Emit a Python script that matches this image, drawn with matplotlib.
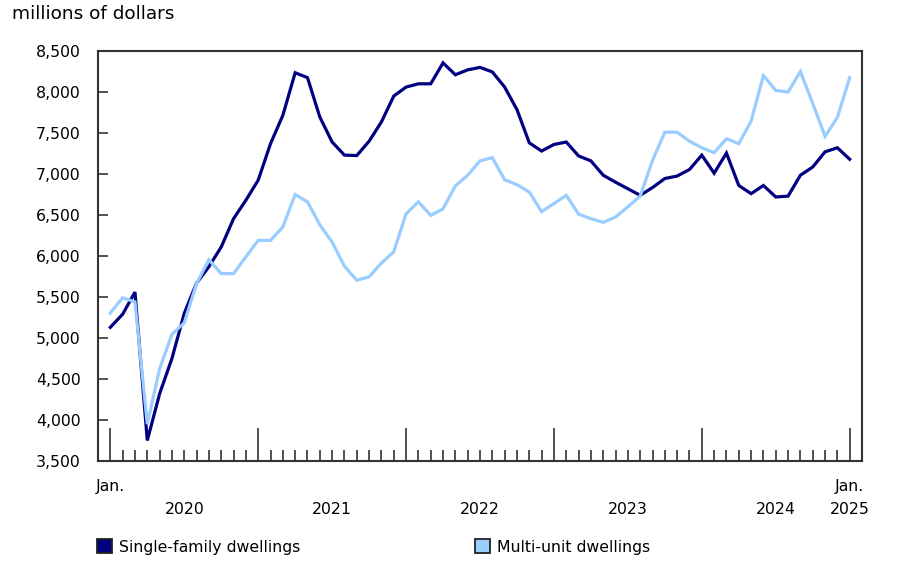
import matplotlib
matplotlib.use("Agg")
import matplotlib.pyplot as plt
from matplotlib.patches import Patch
from matplotlib.ticker import FuncFormatter, MultipleLocator
import matplotlib.transforms as mtransforms

# Monthly data, Jan 2020 .. Jan 2025 (millions of dollars)
single_family = [
    5130, 5290, 5560, 3750, 4320, 4750, 5300, 5670, 5870, 6110, 6455, 6680,
    6925, 7370, 7715, 8235, 8175, 7695, 7390, 7230, 7225, 7400, 7635, 7950,
    8060, 8100, 8100, 8355, 8210, 8270, 8300, 8245, 8060, 7785, 7380, 7280,
    7360, 7390, 7220, 7160, 6985, 6900, 6820, 6740, 6835, 6945, 6975, 7055,
    7230, 7010, 7255, 6860, 6760, 6860, 6720, 6730, 6985, 7085, 7270, 7320,
    7180,
]
multi_unit = [
    5305, 5490, 5440, 3950, 4625, 5045, 5185, 5665, 5955, 5785, 5785, 5990,
    6190, 6190, 6355, 6750, 6660, 6380, 6170, 5875, 5705, 5745, 5915, 6050,
    6515, 6660, 6495, 6575, 6855, 6985, 7160, 7200, 6930, 6870, 6780, 6540,
    6640, 6740, 6510, 6455, 6410, 6475, 6600, 6730, 7165, 7510, 7510, 7400,
    7320, 7260, 7430, 7370, 7645, 8200, 8020, 8000, 8250, 7860, 7460, 7690,
    8175,
]
series_names = ["Single-family dwellings", "Multi-unit dwellings"]
year_labels = ["2020", "2021", "2022", "2023", "2024"]
months = list(range(len(single_family)))

DARK = "#000080"
LIGHT = "#99CCFF"
AXC = "#333333"

plt.rcParams["font.family"] = ["DejaVu Sans"]
fig = plt.figure(figsize=(9.02, 5.73), dpi=100)
ax = fig.add_axes([98 / 902, 1 - 461 / 573, (862 - 98) / 902, (461 - 51) / 573])

ax.plot(months, single_family, color=DARK, lw=2.3, solid_joinstyle="miter")
ax.plot(months, multi_unit, color=LIGHT, lw=2.3, solid_joinstyle="miter")

ax.set_xlim(-1, 61)
ax.set_ylim(3500, 8500)
ax.yaxis.set_major_locator(MultipleLocator(500))
ax.yaxis.set_major_formatter(FuncFormatter(lambda v, p: f"{int(v):,}"))
ax.tick_params(axis="y", direction="in", length=7, width=1.2, color=AXC,
               labelsize=11.3, pad=12.5)

ax.set_xticks(list(range(0, 61, 12)))
ax.set_xticks(months, minor=True)
ax.set_xticklabels([])
ax.tick_params(axis="x", which="major", direction="in", length=24, width=1.2, color=AXC)
ax.tick_params(axis="x", which="minor", direction="in", length=8, width=1.2, color=AXC)

for s in ax.spines.values():
    s.set_color(AXC)
    s.set_linewidth(1.5)

trans = mtransforms.blended_transform_factory(ax.transData, fig.transFigure)
for i, yl in enumerate(year_labels):
    ax.text(6 + 12 * i, 1 - 510 / 573, yl, transform=trans, ha="center",
            va="center", fontsize=11.3)
ax.text(0, 1 - 487 / 573, "Jan.", transform=trans, ha="center", va="center", fontsize=11.3)
ax.text(60, 1 - 487 / 573, "Jan.", transform=trans, ha="center", va="center", fontsize=11.3)
ax.text(60, 1 - 510 / 573, "2025", transform=trans, ha="center", va="center", fontsize=11.3)

fig.text(12 / 902, 1 - 14 / 573, "millions of dollars", ha="left", va="center", fontsize=13.3)

for name, col, xpos in [(series_names[0], DARK, 92), (series_names[1], LIGHT, 470)]:
    fig.legend(handles=[Patch(facecolor=col, edgecolor="#222222", linewidth=1.3, label=name)],
               loc="center left", bbox_to_anchor=(xpos / 902, 1 - 547 / 573),
               frameon=False, fontsize=11.3, handlelength=1.0, handleheight=1.0,
               handletextpad=0.45, borderaxespad=0, borderpad=0.3)

fig.savefig("out.png", dpi=100)
